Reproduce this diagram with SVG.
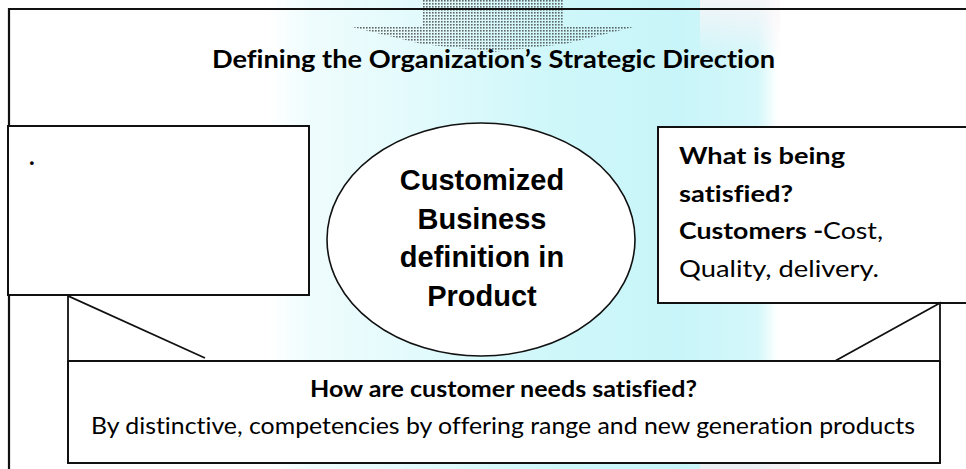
<svg xmlns="http://www.w3.org/2000/svg" width="966" height="469" viewBox="0 0 966 469">
  <defs>
    <style>
      .box { fill: #ffffff; stroke: #111111; stroke-width: 2; }
      .oval { fill: #ffffff; stroke: #111111; stroke-width: 1.6; }
      .frame { fill: none; stroke: #111111; stroke-width: 2.2; }
      .link { fill: none; stroke: #111111; stroke-width: 1.8; }
      .cal { font-family: Lato, "Liberation Sans", sans-serif; fill: #000000; font-variant-ligatures: none; font-feature-settings: "liga" 0; }
      .b { font-weight: bold; }
      .arial { font-family: "Liberation Sans", Arial, sans-serif; font-weight: bold; font-size: 29px; fill: #000000; text-anchor: middle; }
    </style>
    <linearGradient id="wash" x1="0" y1="0" x2="1" y2="0">
      <stop offset="0" stop-color="#ffffff"/>
      <stop offset="0.08" stop-color="#effcfd"/>
      <stop offset="0.3" stop-color="#e2fafc"/>
      <stop offset="0.55" stop-color="#cff7fa"/>
      <stop offset="0.8" stop-color="#c8f5f9"/>
      <stop offset="0.96" stop-color="#d4f7fa"/>
      <stop offset="1" stop-color="#ffffff"/>
    </linearGradient>
    <linearGradient id="blush" x1="0" y1="0" x2="0" y2="1">
      <stop offset="0" stop-color="#fbf5f8" stop-opacity="0.85"/>
      <stop offset="1" stop-color="#fbf5f8" stop-opacity="0"/>
    </linearGradient>
    <pattern id="halftone" width="3" height="3" patternUnits="userSpaceOnUse">
      <rect width="1.6" height="1.6" fill="#404040"/>
    </pattern>
  </defs>

  <!-- faint background wash -->
  <rect x="0" y="0" width="966" height="469" fill="#ffffff"/>
  <rect x="268" y="0" width="510" height="469" fill="url(#wash)"/>
  <rect x="700" y="0" width="80" height="60" fill="url(#blush)"/>
  <rect x="700" y="445" width="100" height="24" fill="#f1eef3" opacity="0.8"/>

  <!-- dotted down arrow entering from above -->
  <path d="M422,0 L564,0 L564,27 L634,27 L565,44 L493,52 L422,44 L352,27 L422,27 Z" fill="url(#halftone)" opacity="0.8"/>

  <!-- outer frame -->
  <g id="frame">
    <path class="frame" d="M9,469 L9,9 L966,9"/>
  </g>

  <g id="title">
    <text class="cal b" x="493.5" y="68" font-size="25" text-anchor="middle" textLength="563" lengthAdjust="spacingAndGlyphs">Defining the Organization’s Strategic Direction</text>
  </g>

  <g id="left-box">
    <rect class="box" x="8" y="126" width="301" height="169"/>
    <text class="cal b" x="29" y="165" font-size="24">.</text>
  </g>

  <g id="core">
    <ellipse class="oval" cx="481" cy="239.5" rx="154" ry="116.5"/>
    <text class="arial" x="482" y="190">Customized</text>
    <text class="arial" x="482" y="228.5">Business</text>
    <text class="arial" x="482" y="267">definition in</text>
    <text class="arial" x="482" y="305.5">Product</text>
  </g>

  <g id="right-box">
    <rect class="box" x="658" y="127" width="320" height="176"/>
    <text class="cal b" x="679" y="164" font-size="23" textLength="166" lengthAdjust="spacingAndGlyphs">What is being</text>
    <text class="cal b" x="679" y="202" font-size="23" textLength="114" lengthAdjust="spacingAndGlyphs">satisfied?</text>
    <text class="cal" x="679" y="239" font-size="23" textLength="204" lengthAdjust="spacingAndGlyphs"><tspan class="b">Customers -</tspan>Cost,</text>
    <text class="cal" x="679" y="277" font-size="23" textLength="200" lengthAdjust="spacingAndGlyphs">Quality, delivery.</text>
  </g>

  <g id="connectors">
    <path class="link" d="M68,361 L68,296 L205,358"/>
    <path class="link" d="M940,361 L940,303 L835,361"/>
  </g>

  <g id="bottom-box">
    <rect class="box" x="68" y="361" width="872" height="102"/>
    <text class="cal b" x="503.5" y="397" font-size="22.5" text-anchor="middle" textLength="387" lengthAdjust="spacingAndGlyphs">How are customer needs satisfied?</text>
    <text class="cal" x="503" y="433.5" font-size="23" text-anchor="middle" textLength="824" lengthAdjust="spacingAndGlyphs">By distinctive, competencies by offering range and new generation products</text>
  </g>
</svg>
